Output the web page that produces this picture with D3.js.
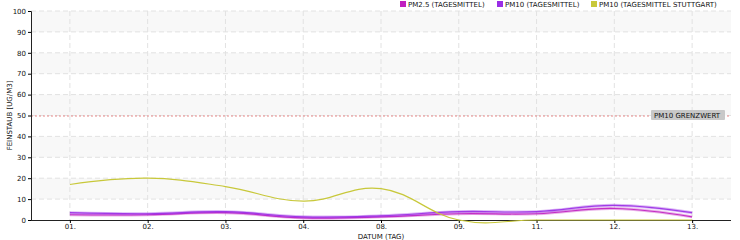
<!DOCTYPE html>
<html><head><meta charset="utf-8">
<script src="https://cdn.jsdelivr.net/npm/d3@7"></script>
<style>
body{margin:0;background:#fff;}
svg text{font-family:"DejaVu Sans",sans-serif;font-size:7px;fill:#111;}
</style></head>
<body><svg id="c" width="740" height="240"></svg>
<script>
const days = ["01.","02.","03.","04.","08.","09.","11.","12.","13."];
const pm25 = [2.5,2.5,3.5,1,1.5,3,3,5.5,1.5];
const pm10 = [3.5,3,4,1.5,2,4,4,7,3.5];
const pm10Stuttgart = [17,20,16,9,15,0,0,0,0];
const yTicks = [0,10,20,30,40,50,60,70,80,90,100];
const limitValue = 50;
const seriesNames = ["PM2.5 (TAGESMITTEL)","PM10 (TAGESMITTEL)","PM10 (TAGESMITTEL STUTTGART)"];
const colors = ["#c020c0","#9a2ee6","#c8c83a"];

const svg = d3.select("#c");
const L=31,R=731,T=11,B=220;
const x = d3.scalePoint().domain(days).range([L,R]).padding(0.5);
const y = d3.scaleLinear().domain([0,100]).range([B,T]);

// alternating bands
for(let i=0;i<yTicks.length-1;i++){
  if(i%2===1){
    svg.append("rect").attr("x",L).attr("width",R-L)
      .attr("y",y(yTicks[i+1])).attr("height",y(yTicks[i])-y(yTicks[i+1]))
      .attr("fill","#f8f8f8");
  }
}
// grid
svg.append("g").selectAll("line").data(yTicks.slice(1)).join("line")
  .attr("x1",L).attr("x2",R).attr("y1",d=>y(d)).attr("y2",d=>y(d))
  .attr("stroke","#e2e2e2").attr("stroke-dasharray","5,3");
svg.append("g").selectAll("line").data(days).join("line")
  .attr("x1",d=>x(d)).attr("x2",d=>x(d)).attr("y1",T).attr("y2",B)
  .attr("stroke","#e2e2e2").attr("stroke-dasharray","5,3");

// limit line
svg.append("line").attr("x1",L).attr("x2",R).attr("y1",y(limitValue)+0.5).attr("y2",y(limitValue)+0.5)
  .attr("stroke","#e88a8a").attr("stroke-dasharray","2,2").attr("stroke-width",1);

// axes
const ya = svg.append("g").attr("transform",`translate(${L},0)`)
  .call(d3.axisLeft(y).tickValues(yTicks).tickSize(3).tickPadding(2));
ya.select(".domain").attr("stroke","#222");
const xa = svg.append("g").attr("transform",`translate(0,${B})`)
  .call(d3.axisBottom(x).tickSize(3).tickPadding(1).tickSizeOuter(0));
xa.select(".domain").attr("stroke","#222").attr("d",`M${L},0.5H${R}`);
svg.selectAll(".tick text").style("font-family","DejaVu Sans").style("font-size","7px").attr("fill","#111");

// lines
const line = d3.line().x((d,i)=>x(days[i])).y(d=>y(d)).curve(d3.curveCardinal.tension(-0.2));
[pm25,pm10,pm10Stuttgart].forEach((s,k)=>{
  if(k<2){
    svg.append("path").attr("d",line(s)).attr("fill","none")
      .attr("stroke",colors[k]).attr("stroke-opacity",0.35).attr("stroke-width",3);
  }
  svg.append("path").attr("d",line(s)).attr("fill","none")
    .attr("stroke",colors[k]).attr("stroke-width",1.2).attr("stroke-opacity",k<2?0.9:1);
});

// limit label
const lbl = svg.append("g");
lbl.append("rect").attr("x",651).attr("y",110).attr("width",74).attr("height",10).attr("fill","#c8c8c8").attr("rx",1);
lbl.append("text").attr("x",654).attr("y",118).text("PM10 GRENZWERT");

// axis titles
svg.append("text").attr("x",(L+R)/2).attr("y",238.5).attr("text-anchor","middle").text("DATUM (TAG)");
svg.append("text").attr("transform",`translate(12,${(T+B)/2}) rotate(-90)`).attr("text-anchor","middle").text("FEINSTAUB [UG/M3]");

// legend
const legX=[400,497,591];
seriesNames.forEach((n,i)=>{
  svg.append("rect").attr("x",legX[i]).attr("y",1).attr("width",6).attr("height",6).attr("fill",colors[i]);
  svg.append("text").attr("x",legX[i]+8).attr("y",7).text(n);
});
</script></body></html>
